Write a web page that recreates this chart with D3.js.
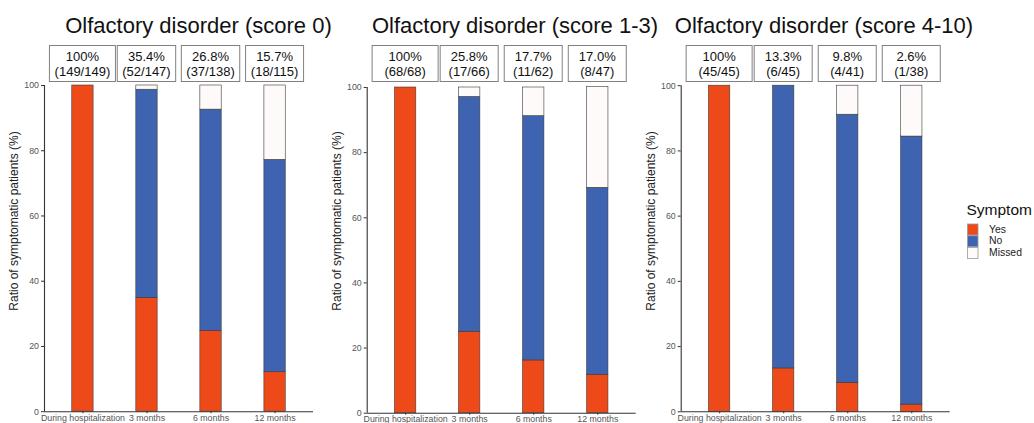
<!DOCTYPE html>
<html>
<head>
<meta charset="utf-8">
<script src="https://cdn.jsdelivr.net/npm/d3@7"></script>
<style>
  html, body { margin: 0; padding: 0; background: #fff; }
  svg { display: block; font-family: "Liberation Sans", Arial, Helvetica, sans-serif; }
</style>
</head>
<body>
<svg id="chart" width="1034" height="423"></svg>
<script>
// Time points on the x axis
const categories = ["During hospitalization", "3 months", "6 months", "12 months"];

// Panel titles
const panelTitles = [
  "Olfactory disorder (score 0)",
  "Olfactory disorder (score 1-3)",
  "Olfactory disorder (score 4-10)"
];

// Share of all patients in each group (%), per time point
const yesValues = [
  [100, 34.9, 24.8, 12.1],
  [100, 25.0, 16.2, 11.8],
  [100, 13.3, 8.9, 2.2]
];
const noValues = [
  [0, 63.8, 67.8, 65.1],
  [0, 72.1, 75.0, 57.4],
  [0, 86.7, 82.2, 82.2]
];
const missedValues = [
  [0, 1.3, 7.4, 22.8],
  [0, 2.9, 8.8, 30.9],
  [0, 0, 8.9, 15.6]
];

// Annotation boxes above the bars: symptomatic rate among respondents
const rateLabels = [
  ["100%", "35.4%", "26.8%", "15.7%"],
  ["100%", "25.8%", "17.7%", "17.0%"],
  ["100%", "13.3%", "9.8%", "2.6%"]
];
const countLabels = [
  ["(149/149)", "(52/147)", "(37/138)", "(18/115)"],
  ["(68/68)", "(17/66)", "(11/62)", "(8/47)"],
  ["(45/45)", "(6/45)", "(4/41)", "(1/38)"]
];

const yTicks = [0, 20, 40, 60, 80, 100];
const seriesKeys = ["Yes", "No", "Missed"];
const legendLabels = ["Yes", "No", "Missed"];

const colors = { Yes: "#EE4A19", No: "#3D63B1", Missed: "#FFFAFA" };

// Panel layout (plot-area left edge, top and bottom, title centre)
const layout = [
  { left: 44.0, top: 85.0, bottom: 411.2, titleX: 198.5 },
  { left: 366.7, top: 87.0, bottom: 412.7, titleX: 515.0 },
  { left: 680.7, top: 85.2, bottom: 411.3, titleX: 824.0 }
];
const plotWidth = 269;

const svg = d3.select("#chart");

panelTitles.forEach((title, p) => {
  const L = layout[p];
  const g = svg.append("g");

  const x = d3.scalePoint().domain(categories).range([L.left, L.left + plotWidth]).padding(0.6);
  const y = d3.scaleLinear().domain([0, 100]).range([L.bottom, L.top]);
  const barW = x.step() / 3;

  const rows = categories.map((c, i) => ({
    category: c,
    Yes: yesValues[p][i],
    No: noValues[p][i],
    Missed: missedValues[p][i]
  }));
  const stacked = d3.stack().keys(seriesKeys)(rows);

  // Stacked bars
  g.selectAll("g.layer")
    .data(stacked)
    .join("g")
    .attr("class", "layer")
    .attr("fill", d => colors[d.key])
    .selectAll("rect")
    .data(d => d.filter(s => s[1] - s[0] > 0))
    .join("rect")
    .attr("x", d => x(d.data.category) - barW / 2)
    .attr("width", barW)
    .attr("y", d => y(d[1]))
    .attr("height", d => y(d[0]) - y(d[1]))
    .attr("stroke", "#3a3a3a")
    .attr("stroke-width", 0.6);

  // Y axis
  const yAxis = g.append("g")
    .attr("transform", `translate(${L.left},0)`)
    .call(d3.axisLeft(y).tickValues(yTicks).tickSize(3).tickPadding(2));
  yAxis.select(".domain").attr("stroke", "#333").attr("stroke-width", 1.1)
    .attr("d", `M0.5,${L.top}V${L.bottom}`);
  yAxis.selectAll(".tick line").attr("stroke", "#333");
  yAxis.selectAll(".tick text")
    .attr("fill", "#555")
    .style("font-size", "8.8px")
    .style("font-family", "'Liberation Sans', Arial, sans-serif");

  // X axis (labels sit right under the short ticks, near the bottom edge)
  const xAxis = g.append("g")
    .attr("transform", `translate(0,${L.bottom})`)
    .call(d3.axisBottom(x).tickSize(2).tickPadding(1.3));
  xAxis.select(".domain").attr("stroke", "#333").attr("stroke-width", 1.1)
    .attr("d", `M${L.left},0.5H${L.left + plotWidth}`);
  xAxis.selectAll(".tick line").attr("stroke", "#333");
  xAxis.selectAll(".tick text")
    .attr("fill", "#555")
    .attr("dy", "0.71em")
    .style("font-size", "8.8px")
    .style("font-family", "'Liberation Sans', Arial, sans-serif");

  // Y axis title
  g.append("text")
    .attr("transform", `translate(${L.left - 26},221) rotate(-90)`)
    .attr("text-anchor", "middle")
    .attr("fill", "#222")
    .style("font-size", "12px")
    .text("Ratio of symptomatic patients (%)");

  // Panel title
  g.append("text")
    .attr("x", L.titleX)
    .attr("y", 33)
    .attr("text-anchor", "middle")
    .attr("fill", "#111")
    .style("font-size", "22px")
    .text(title);

  // Rate annotation boxes
  const boxTop = 45.5, boxH = 36;
  categories.forEach((c, i) => {
    const cx = x(c);
    const bg = g.append("g");
    const rect = bg.append("rect")
      .attr("y", boxTop)
      .attr("height", boxH)
      .attr("fill", "#fff")
      .attr("stroke", "#808080")
      .attr("stroke-width", 1);
    const t1 = bg.append("text")
      .attr("x", cx).attr("y", 61)
      .attr("text-anchor", "middle").attr("fill", "#111")
      .style("font-size", "13px")
      .text(rateLabels[p][i]);
    const t2 = bg.append("text")
      .attr("x", cx).attr("y", 76)
      .attr("text-anchor", "middle").attr("fill", "#111")
      .style("font-size", "13px")
      .text(countLabels[p][i]);
    const tw = Math.max(t1.node().getComputedTextLength(), t2.node().getComputedTextLength());
    const minW = i === 0 ? 66 : 58;
    const w = Math.max(tw + 10, minW);
    rect.attr("x", cx - w / 2).attr("width", w);
  });
});

// Legend
const legend = svg.append("g");
legend.append("text")
  .attr("x", 966.5).attr("y", 215)
  .attr("fill", "#111")
  .style("font-size", "15.5px")
  .text("Symptom");
const keyY = d3.scalePoint().domain(legendLabels).range([224, 247.5]);
legend.selectAll("rect.key")
  .data(legendLabels)
  .join("rect")
  .attr("class", "key")
  .attr("x", 967.5)
  .attr("y", d => keyY(d))
  .attr("width", 10.5)
  .attr("height", 11)
  .attr("fill", d => colors[d])
  .attr("stroke", "#999")
  .attr("stroke-width", 0.8);
legend.selectAll("text.lab")
  .data(legendLabels)
  .join("text")
  .attr("class", "lab")
  .attr("x", 989)
  .attr("y", d => keyY(d) + 8.5)
  .attr("fill", "#222")
  .style("font-size", "10.4px")
  .text(d => d);
</script>
</body>
</html>
